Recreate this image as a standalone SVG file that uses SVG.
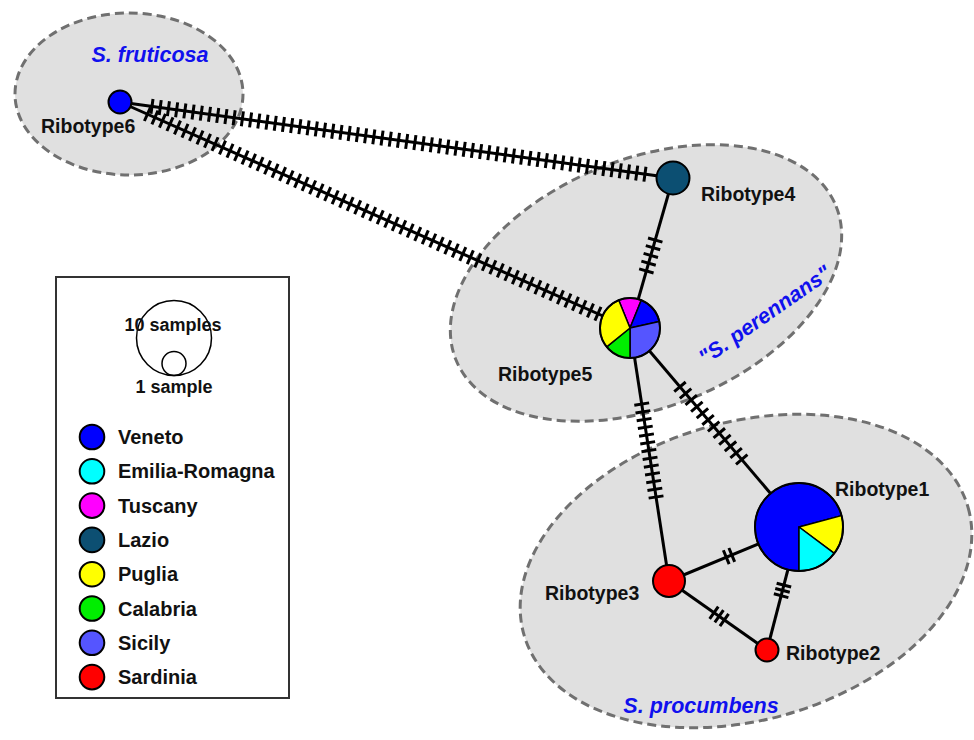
<svg xmlns="http://www.w3.org/2000/svg" width="974" height="740" viewBox="0 0 974 740">
<style>
.region{fill:#e0e0e0;stroke:#707070;stroke-width:3;stroke-dasharray:9 5}
.lbl{font-family:"Liberation Sans",Arial,sans-serif;font-weight:bold;font-size:19.5px;fill:#111}
.sp{font-family:"Liberation Sans",Arial,sans-serif;font-weight:bold;font-style:italic;font-size:21.5px;fill:#1010ee}
.leg{font-family:"Liberation Sans",Arial,sans-serif;font-weight:bold;font-size:20px;fill:#111}
.smp{font-family:"Liberation Sans",Arial,sans-serif;font-weight:bold;font-size:18px;fill:#111;text-anchor:middle}
.edge{stroke:#000;stroke-width:3;fill:none}
.tick{stroke:#000;stroke-width:15;fill:none}
.node{stroke:#000;stroke-width:2}
.sl{stroke:#000;stroke-width:1.5;stroke-linejoin:round}
</style>
<rect width="974" height="740" fill="#fff"/>
<g id="regions">
<ellipse id="region-fruticosa" class="region" cx="129" cy="94" rx="114" ry="81"/>
<ellipse id="region-perennans" class="region" cx="0" cy="0" rx="205" ry="124" transform="translate(646 283) rotate(-22)"/>
<ellipse id="region-procumbens" class="region" cx="0" cy="0" rx="231" ry="149" transform="translate(746 571) rotate(-16)"/>
</g>
<g id="connectors">
<line class="edge" x1="120" y1="102" x2="673" y2="178"/>
<line class="tick" x1="150.51" y1="106.19" x2="646.46" y2="174.38" stroke-dasharray="3 5.293"/>
<line class="edge" x1="120" y1="102" x2="630" y2="328"/>
<line class="tick" x1="146.06" y1="113.55" x2="599.37" y2="314.45" stroke-dasharray="3 5.213"/>
<line class="edge" x1="673" y1="178" x2="630" y2="328"/>
<line class="tick" x1="655.64" y1="238.56" x2="645.94" y2="272.40" stroke-dasharray="3 5.05"/>
<line class="edge" x1="630" y1="328" x2="799" y2="527"/>
<line class="tick" x1="679.00" y1="385.70" x2="742.69" y2="460.70" stroke-dasharray="3 5.673"/>
<line class="edge" x1="630" y1="328" x2="669" y2="581"/>
<line class="tick" x1="641.48" y1="402.52" x2="656.27" y2="498.48" stroke-dasharray="3 4.842"/>
<line class="edge" x1="669" y1="581" x2="799" y2="527"/>
<line class="tick" x1="724.86" y1="557.80" x2="733.17" y2="554.35" stroke-dasharray="3 3"/>
<line class="edge" x1="799" y1="527" x2="767" y2="650"/>
<line class="tick" x1="784.27" y1="583.62" x2="780.74" y2="597.17" stroke-dasharray="3 2.5"/>
<line class="edge" x1="669" y1="581" x2="767" y2="650"/>
<line class="tick" x1="712.73" y1="611.79" x2="725.48" y2="620.77" stroke-dasharray="3 3.3"/>
</g>
<g id="ribotype6">
<circle class="node" cx="120" cy="102" r="11.5" fill="#0000ff"/>
<text class="lbl" x="41" y="133">Ribotype6</text>
</g>
<g id="ribotype4">
<circle class="node" cx="673" cy="178" r="16.5" fill="#0c4f72"/>
<text class="lbl" x="701" y="201">Ribotype4</text>
</g>
<g id="ribotype5">
<path class="sl" fill="#ff00ff" d="M630,328 L618.76,300.18 A30,30 0 0,1 641.24,300.18 Z"/>
<path class="sl" fill="#0000ff" d="M630,328 L641.24,300.18 A30,30 0 0,1 659.29,321.51 Z"/>
<path class="sl" fill="#5555ff" d="M630,328 L659.29,321.51 A30,30 0 0,1 630,358 Z"/>
<path class="sl" fill="#00ee00" d="M630,328 L630,358 A30,30 0 0,1 606.69,346.88 Z"/>
<path class="sl" fill="#ffff00" d="M630,328 L606.69,346.88 A30,30 0 0,1 618.76,300.18 Z"/>
<circle cx="630" cy="328" r="30" fill="none" stroke="#000" stroke-width="2"/>
<text class="lbl" x="498" y="381">Ribotype5</text>
</g>
<g id="ribotype1">
<path class="sl" fill="#0000ff" d="M799,527 L799,571 A44,44 0 1,1 841.50,515.61 Z"/>
<path class="sl" fill="#ffff00" d="M799,527 L841.50,515.61 A44,44 0 0,1 834.28,553.29 Z"/>
<path class="sl" fill="#00ffff" d="M799,527 L834.28,553.29 A44,44 0 0,1 799,571 Z"/>
<circle cx="799" cy="527" r="44" fill="none" stroke="#000" stroke-width="2"/>
<text class="lbl" x="835" y="496">Ribotype1</text>
</g>
<g id="ribotype3">
<circle class="node" cx="669" cy="581" r="16" fill="#ff0000"/>
<text class="lbl" x="545" y="600">Ribotype3</text>
</g>
<g id="ribotype2">
<circle class="node" cx="767" cy="650" r="11.5" fill="#ff0000"/>
<text class="lbl" x="786" y="660">Ribotype2</text>
</g>
<g id="species-labels">
<text class="sp" x="150" y="62" text-anchor="middle">S. fruticosa</text>
<text class="sp" x="701" y="713" text-anchor="middle">S. procumbens</text>
<text class="sp" text-anchor="middle" transform="translate(769 321) rotate(-35)">"S. perennans"</text>
</g>
<g id="legend">
<rect x="56" y="277" width="233" height="421" fill="#fff" stroke="#333" stroke-width="2"/>
<circle cx="174" cy="338" r="37.5" fill="none" stroke="#000" stroke-width="1.5"/>
<circle cx="174" cy="363.5" r="12" fill="none" stroke="#000" stroke-width="1.5"/>
<text class="smp" x="173" y="331">10 samples</text>
<text class="smp" x="174" y="393">1 sample</text>
<g class="node">
<circle cx="92" cy="437" r="12.3" fill="#0000ff"/>
<circle cx="92" cy="471.3" r="12.3" fill="#00ffff"/>
<circle cx="92" cy="505.6" r="12.3" fill="#ff00ff"/>
<circle cx="92" cy="539.9" r="12.3" fill="#0c4f72"/>
<circle cx="92" cy="574.2" r="12.3" fill="#ffff00"/>
<circle cx="92" cy="608.5" r="12.3" fill="#00ee00"/>
<circle cx="92" cy="642.8" r="12.3" fill="#5555ff"/>
<circle cx="92" cy="677.1" r="12.3" fill="#ff0000"/>
</g>
<text class="leg" x="118" y="444">Veneto</text>
<text class="leg" x="118" y="478.3">Emilia-Romagna</text>
<text class="leg" x="118" y="512.6">Tuscany</text>
<text class="leg" x="118" y="546.9">Lazio</text>
<text class="leg" x="118" y="581.2">Puglia</text>
<text class="leg" x="118" y="615.5">Calabria</text>
<text class="leg" x="118" y="649.8">Sicily</text>
<text class="leg" x="118" y="684.1">Sardinia</text>
</g>
</svg>
